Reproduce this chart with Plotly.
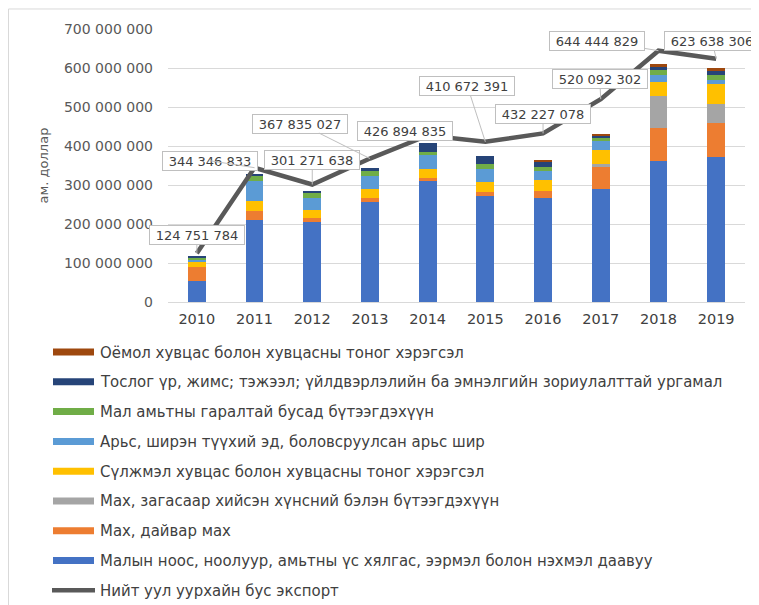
import plotly.graph_objects as go

years = ["2010", "2011", "2012", "2013", "2014", "2015", "2016", "2017", "2018", "2019"]

# stacked series, million USD
wool = [53, 210, 205, 257, 311, 272, 267, 291, 361, 372]
meat = [37, 24, 11, 9.5, 6, 9.5, 18, 55, 85.5, 86]
food = [0, 0, 0, 0, 0, 0, 0, 7.7, 81.5, 49.5]
knit = [13, 26, 20.5, 23, 24, 26.5, 27, 36, 36.7, 50.5]
hides = [7, 50, 31, 34, 35, 33, 24, 22, 16.4, 12]
other_animal = [5, 13.6, 12, 12, 8.5, 13, 9.5, 10, 14.6, 12]
seeds = [2, 4, 6, 8.5, 22, 20, 15.5, 6, 7.6, 11]
woven = [0, 0, 0, 0, 0, 0, 3, 3.4, 7.7, 7.7]

total_export = [124751784, 344346833, 301271638, 367835027, 426894835,
                410672391, 432227078, 520092302, 644444829, 623638306]

names = [
    "Малын ноос, ноолуур, амьтны үс хялгас, ээрмэл болон нэхмэл даавуу",
    "Мах, дайвар мах",
    "Мах, загасаар хийсэн хүнсний бэлэн бүтээгдэхүүн",
    "Сүлжмэл хувцас болон хувцасны тоног хэрэгсэл",
    "Арьс, ширэн түүхий эд, боловсруулсан арьс шир",
    "Мал амьтны гаралтай бусад бүтээгдэхүүн",
    "Тослог үр, жимс; тэжээл; үйлдвэрлэлийн ба эмнэлгийн зориулалттай ургамал",
    "Оёмол хувцас болон хувцасны тоног хэрэгсэл",
]
line_name = "Нийт уул уурхайн бус экспорт"
series = [wool, meat, food, knit, hides, other_animal, seeds, woven]
colors = ["#4472C4", "#ED7D31", "#A5A5A5", "#FFC000", "#5B9BD5", "#70AD47", "#264478", "#9E480E"]
line_color = "#595959"

# the page has an 8px body margin; figure coordinates = page coordinates - 8
OFF = 8
W, H = 759 - OFF, 605 - OFF
L, R, T, B = 168 - OFF, 14, 29 - OFF, 303.3
pw, ph = W - L - R, H - T - B

def px_x(x):
    return (x - OFF - L) / pw

def px_y(y):
    return (H - B - (y - OFF)) / ph

fig = go.Figure()
for vals, name, col in zip(series, names, colors):
    fig.add_trace(go.Bar(x=years, y=[v * 1e6 for v in vals], name=name,
                         marker=dict(color=col, line=dict(width=0)), showlegend=False))
fig.add_trace(go.Scatter(x=years, y=total_export, mode="lines", name=line_name,
                         line=dict(color=line_color, width=4.5), showlegend=False))

# data label callouts (offsets of box from point, in pixels)
offsets = [(0, -18), (-45, -7), (0, -25), (-70, -35), (-23, -5),
           (-18, -56), (0, -19), (-1, -20), (-61, -10), (-4, -18)]
for i, (v, (ax, ay)) in enumerate(zip(total_export, offsets)):
    txt = "\u00a0" + f"{v:,}".replace(",", " ") + "\u00a0"
    fig.add_annotation(x=i, y=v, text=txt, showarrow=True, ax=ax, ay=ay,
                       arrowhead=0, arrowwidth=1, arrowcolor="#bfbfbf", standoff=0,
                       bgcolor="white", bordercolor="#bfbfbf", borderwidth=1, borderpad=1.5,
                       font=dict(family="DejaVu Sans", size=13, color="#404040"))

# outer frame
fig.add_shape(type="rect", xref="paper", yref="paper",
              x0=px_x(OFF + 0.5), x1=px_x(790), y0=px_y(640), y1=px_y(9),
              line=dict(color="#d9d9d9", width=1), fillcolor="rgba(0,0,0,0)", layer="below")

# custom legend
legend_order = [7, 6, 5, 4, 3, 2, 1, 0]
row0, step = 351.7, 29.75
leg_font = dict(family="DejaVu Sans Condensed, DejaVu Sans", size=16.6, color="#404040")
for i, idx in enumerate(legend_order):
    yc = row0 + i * step
    fig.add_shape(type="rect", xref="paper", yref="paper",
                  x0=px_x(53), x1=px_x(94), y0=px_y(yc + 3.5), y1=px_y(yc - 3.5),
                  line=dict(width=0), fillcolor=colors[idx])
    fig.add_annotation(xref="paper", yref="paper", x=px_x(98), y=px_y(yc),
                       text=names[idx], showarrow=False, xanchor="left", yanchor="middle",
                       font=leg_font)
yc = row0 + 8 * step
fig.add_shape(type="line", xref="paper", yref="paper",
              x0=px_x(52), x1=px_x(95), y0=px_y(yc), y1=px_y(yc),
              line=dict(color=line_color, width=4.5))
fig.add_annotation(xref="paper", yref="paper", x=px_x(98), y=px_y(yc),
                   text=line_name, showarrow=False, xanchor="left", yanchor="middle",
                   font=leg_font)

fig.update_layout(
    width=W, height=H, barmode="stack", bargap=0.69,
    margin=dict(l=L, r=R, t=T, b=B, autoexpand=False),
    paper_bgcolor="white", plot_bgcolor="white",
    separators=". ", showlegend=False,
    font=dict(family="DejaVu Sans", color="#595959"),
)
fig.update_xaxes(type="category", range=[-0.5, 9.5], showgrid=False, showline=False, ticks="",
                 ticklabelstandoff=6,
                 tickfont=dict(family="DejaVu Sans", size=14.5, color="#404040"))
fig.update_yaxes(range=[0, 700e6], dtick=100e6, tickformat=",d",
                 showgrid=True, gridcolor="#d9d9d9", gridwidth=1,
                 zeroline=True, zerolinecolor="#d9d9d9", zerolinewidth=1,
                 showline=False, ticks="", ticklabelstandoff=14,
                 tickfont=dict(family="DejaVu Sans", size=14, color="#595959"),
                 title=dict(text="ам. доллар", standoff=12,
                            font=dict(family="DejaVu Sans", size=13, color="#595959")))

fig.write_html("out.html")
